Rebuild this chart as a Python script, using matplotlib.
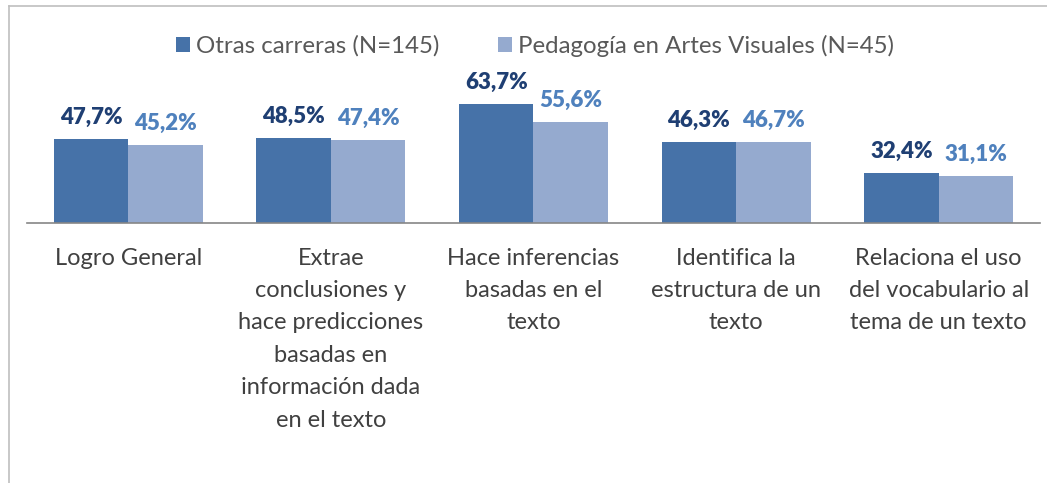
import matplotlib.pyplot as plt
import numpy as np

categorias = [
    "Logro General",
    "Extrae\nconclusiones y\nhace predicciones\nbasadas en\ninformación dada\nen el texto",
    "Hace inferencias\nbasadas en el\ntexto",
    "Identifica la\nestructura de un\ntexto",
    "Relaciona el uso\ndel vocabulario al\ntema de un texto",
]
otras_carreras = [47.7, 48.5, 63.7, 46.3, 32.4]
artes_visuales = [45.2, 47.4, 55.6, 46.7, 31.1]
series_nombres = ["Otras carreras (N=145)", "Pedagogía en Artes Visuales (N=45)"]

plt.rcParams['font.family'] = ['Lato', 'DejaVu Sans']

fig = plt.figure(figsize=(10.47, 4.83), dpi=100)
ax = fig.add_axes([0.0258, 0.539, 0.9675, 0.2745])

x = np.arange(len(categorias))
w = 0.368
c_osc = '#4672A8'
c_cla = '#95AACF'
ax.bar(x - w / 2, otras_carreras, w, color=c_osc, label=series_nombres[0])
ax.bar(x + w / 2, artes_visuales, w, color=c_cla, label=series_nombres[1])

ax.set_ylim(10, 70)
ax.set_xlim(-0.5, len(categorias) - 0.5)

# etiquetas de datos
for xi, v in zip(x - w / 2, otras_carreras):
    ax.annotate(f"{v:.1f}%".replace('.', ','), (xi, v), xytext=(0, 8), textcoords='offset points',
                ha='center', va='bottom', fontsize=16, fontweight='heavy', color='#1F3F73',
                annotation_clip=False)
for xi, v in zip(x + w / 2, artes_visuales):
    ax.annotate(f"{v:.1f}%".replace('.', ','), (xi, v), xytext=(0, 8), textcoords='offset points',
                ha='center', va='bottom', fontsize=16, fontweight='heavy', color='#4F81BD',
                annotation_clip=False)

for s in ['top', 'right', 'left']:
    ax.spines[s].set_visible(False)
ax.spines['bottom'].set_color('#868686')
ax.spines['bottom'].set_linewidth(1.2)
ax.set_yticks([])
ax.set_xticks(x)
ax.set_xticklabels(categorias, fontsize=17, color='#404040', linespacing=1.67)
ax.tick_params(axis='x', length=0, pad=18)

fig.legend(loc='center', bbox_to_anchor=(0.511, 0.905), ncol=2, frameon=False,
           fontsize=17.3, labelcolor='#595959', handlelength=0.6, handleheight=0.6,
           handletextpad=0.25, columnspacing=2.4)

# borde del grafico
fig.add_artist(plt.Line2D([9 / 1047, 9 / 1047], [0, 1 - 6 / 483], color='#BFBFBF', lw=1.2))
fig.add_artist(plt.Line2D([9 / 1047, 1], [1 - 6 / 483, 1 - 6 / 483], color='#BFBFBF', lw=1.2))

fig.savefig('out.png', dpi=100)
